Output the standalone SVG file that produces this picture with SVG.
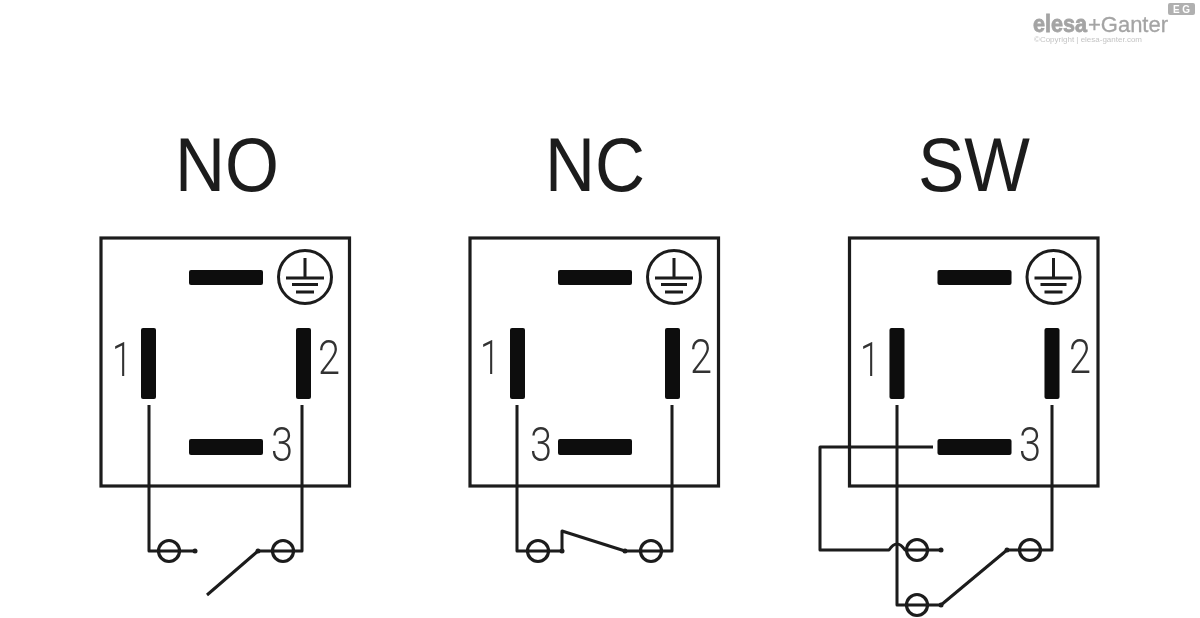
<svg xmlns="http://www.w3.org/2000/svg" width="1200" height="618" viewBox="0 0 1200 618">
<defs>
<filter id="soft" x="-5%" y="-5%" width="110%" height="110%"><feGaussianBlur stdDeviation="0.5"/></filter>
<filter id="softer" x="-5%" y="-20%" width="110%" height="140%"><feGaussianBlur stdDeviation="0.6"/></filter>
<style>
.ln{fill:none;stroke:#1c1c1c;stroke-width:3;stroke-linejoin:round}
.box{fill:none;stroke:#1c1c1c;stroke-width:3.200}
.bar{fill:#0c0c0c}
.dot{fill:#1c1c1c}
.t{font-family:"Liberation Sans",Arial,sans-serif;fill:#1c1c1c}
.title{font-size:76px;text-anchor:middle}
.num{font-family:Roboto,"Liberation Sans",sans-serif;font-size:48px;font-weight:300;text-anchor:middle;fill:#333}
.nd{filter:url(#soft)}
</style>
<g id="earth">
<circle cx="0" cy="0" r="26.500" fill="none" stroke="#1c1c1c" stroke-width="3"/>
<path class="ln" d="M0-19V1M-19 1H19M-13 7.500H13M-9 15H9"/>
</g>
<g id="term">
<circle cx="0" cy="0" r="10.500" fill="none" stroke="#1c1c1c" stroke-width="3.200"/>
</g>
<g id="pins">
<rect class="bar" x="88" y="32" width="74" height="15" rx="2"/>
<rect class="bar" x="40" y="90" width="15" height="71" rx="2"/>
<rect class="bar" x="195" y="90" width="15" height="71" rx="2"/>
<rect class="bar" x="88" y="201" width="74" height="16" rx="2"/>
<rect class="box" x="0" y="0" width="248.500" height="248"/>
<use href="#earth" x="204" y="39"/>
</g>
</defs>
<rect width="1200" height="618" fill="#fff"/>

<g id="logo" filter="url(#softer)">
<text x="1033" y="32" font-family="'Liberation Sans',Arial,sans-serif" font-size="24" font-weight="bold" fill="#a4a4a4" stroke="#a4a4a4" stroke-width="0.8" textLength="54" lengthAdjust="spacingAndGlyphs">elesa</text>
<text x="1088" y="32" font-family="'Liberation Sans',Arial,sans-serif" font-size="22" fill="#a4a4a4" stroke="#a4a4a4" stroke-width="0.3" textLength="80" lengthAdjust="spacingAndGlyphs">+Ganter</text>
<rect x="1168" y="3" width="27" height="12" rx="2" fill="#b0b0b0"/>
<text x="1181.500" y="13" font-family="'Liberation Sans',Arial,sans-serif" font-size="10" font-weight="bold" fill="#fff" text-anchor="middle">E G</text>
<text x="1034" y="42" font-family="'Liberation Sans',Arial,sans-serif" font-size="7.500" fill="#c4c4c4" textLength="108" lengthAdjust="spacingAndGlyphs">©Copyright | elesa-ganter.com</text>
</g>

<g id="node-no" class="nd">
<use href="#pins" x="101" y="238"/>
<text class="t title" x="227" y="191" textLength="104" lengthAdjust="spacingAndGlyphs">NO</text>
<text class="num" x="122" y="376" textLength="20" lengthAdjust="spacingAndGlyphs">1</text>
<text class="num" x="329" y="374" textLength="22" lengthAdjust="spacingAndGlyphs">2</text>
<text class="num" x="282" y="461" textLength="22" lengthAdjust="spacingAndGlyphs">3</text>
<use href="#term" x="169" y="551"/>
<use href="#term" x="283" y="551"/>
</g>

<g id="node-nc" class="nd">
<use href="#pins" x="470" y="238"/>
<text class="t title" x="595" y="191" textLength="100" lengthAdjust="spacingAndGlyphs">NC</text>
<text class="num" x="490" y="374" textLength="20" lengthAdjust="spacingAndGlyphs">1</text>
<text class="num" x="701" y="373" textLength="22" lengthAdjust="spacingAndGlyphs">2</text>
<text class="num" x="541" y="461" textLength="22" lengthAdjust="spacingAndGlyphs">3</text>
<use href="#term" x="538" y="551"/>
<use href="#term" x="651" y="551"/>
</g>

<g id="node-sw" class="nd">
<use href="#pins" x="849.500" y="238"/>
<text class="t title" x="974" y="191" textLength="112" lengthAdjust="spacingAndGlyphs">SW</text>
<text class="num" x="870" y="376" textLength="20" lengthAdjust="spacingAndGlyphs">1</text>
<text class="num" x="1080" y="373" textLength="22" lengthAdjust="spacingAndGlyphs">2</text>
<text class="num" x="1030" y="461" textLength="22" lengthAdjust="spacingAndGlyphs">3</text>
<use href="#term" x="917" y="550"/>
<use href="#term" x="1030" y="550"/>
<use href="#term" x="917" y="605"/>
</g>

<g id="connectors" class="nd">
<path class="ln" d="M149 405V551H195"/>
<path class="ln" d="M302 405V551H258L207 595"/>
<path class="ln" d="M517 405V551H562V531L625 551H672V405"/>
<path class="ln" d="M933 447H820V550H889Q893 544 897 544Q901 544 905 550H941"/>
<path class="ln" d="M897 405V605H941L1007 550H1052V405"/>
<circle class="dot" cx="195" cy="551" r="2.500"/>
<circle class="dot" cx="258" cy="551" r="2.500"/>
<circle class="dot" cx="562" cy="551" r="2.500"/>
<circle class="dot" cx="625" cy="551" r="2.500"/>
<circle class="dot" cx="941" cy="550" r="2.500"/>
<circle class="dot" cx="1007" cy="550" r="2.500"/>
<circle class="dot" cx="941" cy="605" r="2.500"/>
</g>
</svg>
